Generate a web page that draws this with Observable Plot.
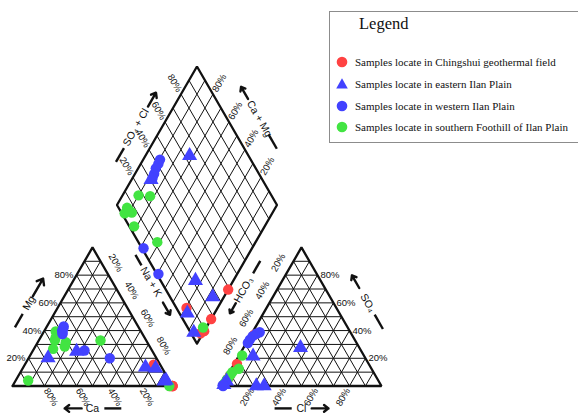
<!DOCTYPE html>
<html>
<head>
<meta charset="utf-8">
<script src="https://cdn.jsdelivr.net/npm/d3@7"></script>
<script src="https://cdn.jsdelivr.net/npm/@observablehq/plot@0.6"></script>
<style>
  body { margin: 0; background: #fff; }
  #wrap { position: relative; width: 578px; height: 414px; overflow: hidden; }
  #legend {
    position: absolute; left: 329px; top: 11px; width: 270px; height: 132px;
    border: 1.5px solid #8c8c8c; box-sizing: border-box;
    font-family: "Liberation Serif", "Times New Roman", serif; color: #111;
  }
  #legend .ttl { position: absolute; left: 29px; top: 2px; font-size: 16.5px; }
  #legend .item { position: absolute; left: 6px; height: 14px; display: flex; align-items: center; font-size: 11px; white-space: nowrap; }
  #legend .item svg { margin-right: 7px; }
</style>
</head>
<body>
<div id="wrap"><div id="legend"></div></div>
<script>
// Sample groups and their legend entries
const groupNames = [
  "Samples locate in Chingshui geothermal field",
  "Samples locate in eastern Ilan Plain",
  "Samples locate in western Ilan Plain",
  "Samples locate in southern Foothill of Ilan Plain"
];
const groupColors = ["#ff4242", "#4242ff", "#4242ff", "#42e442"];
const groupShapes = ["circle", "triangle", "circle", "circle"];

// One entry per water sample (milliequivalent %); Ca = 100 - Mg - Na+K, HCO3 = 100 - SO4 - Cl
const sampleGroup = [0, 0, 0, 0, 0,  1, 1, 1, 1, 1, 1,  2, 2, 2, 2, 2, 2, 2,  3, 3, 3, 3, 3, 3, 3, 3, 3];
const mgPct  = [0, 15.3, 0, 0, 0,  20.3, 24.9, 13.6, 12.8, 3.5, 4,  43, 41.5, 40, 38.5, 37.5, 25.6, 20,  33, 31.6, 39.4, 4, 26.8, 35, 28.5, 32.8, 0];
const naKPct = [100, 80.6, 100, 100, 98.5,  12.1, 27.6, 76.3, 83, 93, 94,  10.5, 11, 11, 12, 12.5, 32.2, 50.8,  10, 17.5, 7.3, 7.8, 12, 9.5, 18.4, 38.6, 98];
const so4Pct = [37, 5, 16, 7.5, 4.5,  21.5, 27.6, 0, 3.5, 0, 1,  38.8, 37.7, 36, 33.5, 31, 0.5, 0,  12.4, 22, 4, 1, 5, 4.5, 2, 10, 8];
const clPct  = [2, 1.3, 1.7, 1.5, 1.5,  9, 35.6, 21.8, 1.4, 26.7, 1,  4.5, 3, 1.5, 1, 1, 0.5, 1,  4.6, 1.9, 1.3, 0.8, 1.5, 1.1, 1, 1.8, 1.6];

// Percent tick labels along each side
const tickValues = [20, 40, 60, 80];

// ---- Piper geometry (triangle side = 100 plot units) ----
const S3 = Math.sqrt(3) / 2;
const GAP = 30.6;                 // space between the two triangles
const AX = 100 + GAP;             // left corner of the anion triangle
const B = [100 + GAP / 2, GAP * S3]; // lower vertex of the diamond

const cat = (mg, na) => [na + mg / 2, mg * S3];
const an = (so4, cl) => [AX + cl + so4 / 2, so4 * S3];
const dia = (na, sc) => {
  const a = 1 - na / 100, t = sc / 100;
  return [B[0] + 50 * (t - a), B[1] + 100 * S3 * (a + t)];
};

const samples = sampleGroup.map((g, i) => {
  const c = cat(mgPct[i], naKPct[i]);
  const a = an(so4Pct[i], clPct[i]);
  const d = dia(naKPct[i], so4Pct[i] + clPct[i]);
  return { g, color: groupColors[g], shape: groupShapes[g], c, a, d };
});
const points = [];
for (const s of samples) for (const p of [s.c, s.a, s.d]) points.push({ x: p[0], y: p[1], g: s.g, color: s.color, shape: s.shape });
const drawOrder = [0, 3, 2, 1];
const pointsSorted = drawOrder.flatMap(g => points.filter(p => p.g === g));

// grid segments at 10 % spacing
const grid = [];
const seg = (p, q) => grid.push({ x1: p[0], y1: p[1], x2: q[0], y2: q[1] });
for (let p = 10; p < 100; p += 10) {
  seg(cat(p, 0), cat(p, 100 - p));
  seg(cat(0, p), cat(100 - p, p));
  seg(cat(0, 100 - p), cat(100 - p, 0));
  seg(an(p, 0), an(p, 100 - p));
  seg(an(0, p), an(100 - p, p));
  seg(an(0, 100 - p), an(100 - p, 0));
  seg(dia(p, 0), dia(p, 100));
  seg(dia(0, p), dia(100, p));
}

// outlines
const outline = [];
const poly = (id, pts) => pts.forEach(p => outline.push({ id, x: p[0], y: p[1] }));
poly("cat", [cat(0, 0), cat(100, 0), cat(0, 100), cat(0, 0)]);
poly("an", [an(0, 0), an(100, 0), an(0, 100), an(0, 0)]);
poly("dia", [dia(100, 0), dia(0, 0), dia(0, 100), dia(100, 100), dia(100, 0)]);

// tick labels, set out along the extension of each grid line
const K = 8;
const ext = (p, dx, dy, k = K) => [p[0] + k * dx, p[1] + k * dy];
const tk = (arr, pt, v) => arr.push({ x: pt[0], y: pt[1], label: v + "%" });
const tMgL = [], tNaR = [], tCaB = [], tSoR = [], tHcL = [], tClB = [], tDUL = [], tDUR = [];
for (const v of tickValues) {
  tk(tMgL, cat(v, 0), v);
  tk(tNaR, ext(cat(100 - v, v), 0.5, S3, 9), v);
  tk(tCaB, ext([100 - v, 0], 0.5, -S3), v);
  tk(tSoR, an(v, 100 - v), v);
  tk(tHcL, ext(an(100 - v, 0), -0.5, S3, 9), v);
  tk(tClB, ext(an(0, v), -0.5, -S3), v);
  tk(tDUL, ext(dia(0, v), -0.5, S3), v);
  tk(tDUR, ext(dia(100 - v, 100), 0.5, S3), v);
}

// axis titles with a lead-in dash and a direction arrow
const titles = [
  { text: "Mg", p0: cat(0, 0), p1: cat(100, 0), side: 1, off: 17, shift: 0, rotate: -60, dash: [-17.5, -7.8], arrow: [4.8, 17.7] },
  { text: "Ca", p0: cat(0, 0), p1: cat(0, 100), side: -1, off: 14, shift: 0, rotate: 0, dash: [7.4, 18], arrow: [-6.8, -17.4] },
  { text: "Cl", p0: an(0, 0), p1: an(0, 100), side: -1, off: 14, shift: 0, rotate: 0, dash: [-16.8, -6.1], arrow: [6.4, 16.9] },
  { text: "SO\u2084", p0: an(100, 0), p1: an(0, 100), side: 1, off: 18.6, shift: 0.8, rotate: 60, dash: [8.5, 18.8], arrow: [-10.8, -19.9] },
  { text: "Na + K", p0: dia(0, 0), p1: dia(100, 0), side: -1, off: 5.6, shift: 2.2, rotate: 60, dash: [-19.4, -11.9], arrow: [15, 23.8] },
  { text: "HCO\u2083", p0: dia(100, 0), p1: dia(100, 100), side: -1, off: 8.4, shift: -6.4, rotate: -60, dash: [12, 21], arrow: [-9.6, -16.9] },
  { text: "SO\u2084 + Cl", p0: dia(0, 0), p1: dia(0, 100), side: 1, off: 14, shift: -2, rotate: -60, dash: [-25, -15], arrow: [15, 25] },
  { text: "Ca + Mg", p0: dia(0, 100), p1: dia(100, 100), side: 1, off: 17.5, shift: -2.2, rotate: 60, dash: [11.3, 21.7], arrow: [-14.3, -23] }
];
const titleText = [], titleDash = [], titleArrow = [];
for (const t of titles) {
  const len = Math.hypot(t.p1[0] - t.p0[0], t.p1[1] - t.p0[1]);
  const dx = (t.p1[0] - t.p0[0]) / len, dy = (t.p1[1] - t.p0[1]) / len;
  const nx = t.side > 0 ? -dy : dy, ny = t.side > 0 ? dx : -dx;
  const cx = (t.p0[0] + t.p1[0]) / 2 + nx * t.off + dx * t.shift;
  const cy = (t.p0[1] + t.p1[1]) / 2 + ny * t.off + dy * t.shift;
  titleText.push({ x: cx, y: cy, text: t.text, rotate: t.rotate });
  titleDash.push({ x1: cx + dx * t.dash[0], y1: cy + dy * t.dash[0], x2: cx + dx * t.dash[1], y2: cy + dy * t.dash[1] });
  titleArrow.push({ x1: cx + dx * t.arrow[0], y1: cy + dy * t.arrow[0], x2: cx + dx * t.arrow[1], y2: cy + dy * t.arrow[1] });
}

const tickFont = 9.5;
const textMark = (data, rotate, anchor, extra = {}) =>
  Plot.text(data, { x: "x", y: "y", text: "label", rotate, textAnchor: anchor, fontSize: tickFont, fill: "#111", ...extra });

const chart = Plot.plot({
  width: 578,
  height: 414,
  margin: 0,
  x: { domain: [0, 100], range: [12, 172], axis: null },
  y: { domain: [0, 100], range: [385.5, 225.5], axis: null },
  color: { type: "identity" },
  style: { fontFamily: "'Liberation Sans', Arial, sans-serif", background: "transparent", overflow: "visible" },
  marks: [
    Plot.link(grid, { x1: "x1", y1: "y1", x2: "x2", y2: "y2", stroke: "#111", strokeWidth: 1 }),
    Plot.line(outline, { x: "x", y: "y", z: "id", stroke: "#111", strokeWidth: 2.3, strokeLinejoin: "miter" }),
    textMark(tMgL, 0, "end", { dx: -3 }),
    textMark(tNaR, 60, "middle"),
    textMark(tCaB, 60, "middle"),
    textMark(tSoR, 0, "start", { dx: 3 }),
    textMark(tHcL, -60, "middle"),
    textMark(tClB, -60, "middle"),
    textMark(tDUL, 60, "middle"),
    textMark(tDUR, -60, "middle"),
    ...titleText.map(t => Plot.text([t], { x: "x", y: "y", text: "text", rotate: t.rotate, fontSize: 10.5, fill: "#111" })),
    Plot.link(titleDash, { x1: "x1", y1: "y1", x2: "x2", y2: "y2", stroke: "#111", strokeWidth: 2.4 }),
    Plot.arrow(titleArrow, { x1: "x1", y1: "y1", x2: "x2", y2: "y2", stroke: "#111", strokeWidth: 2.4, headLength: 7, headAngle: 75 }),
    Plot.dot(pointsSorted.filter(p => p.shape === "circle"), { x: "x", y: "y", fill: "color", r: 5.2 }),
    Plot.dot(pointsSorted.filter(p => p.shape === "triangle"), { x: "x", y: "y", fill: "color", symbol: "triangle", r: 5.6 })
  ]
});
document.getElementById("wrap").prepend(chart);

// legend box
const legend = document.getElementById("legend");
legend.innerHTML = `<div class="ttl">Legend</div>`;
const rowTops = [43, 65, 87, 108];
groupNames.forEach((name, i) => {
  const item = document.createElement("div");
  item.className = "item";
  item.style.top = rowTops[i] + "px";
  const shape = groupShapes[i] === "circle"
    ? `<circle cx="6" cy="6" r="5.3" fill="${groupColors[i]}"/>`
    : `<polygon points="6,0.3 11.8,10.6 0.2,10.6" fill="${groupColors[i]}"/>`;
  item.innerHTML = `<svg width="12" height="12">${shape}</svg><span>${name}</span>`;
  legend.appendChild(item);
});
</script>
</body>
</html>
